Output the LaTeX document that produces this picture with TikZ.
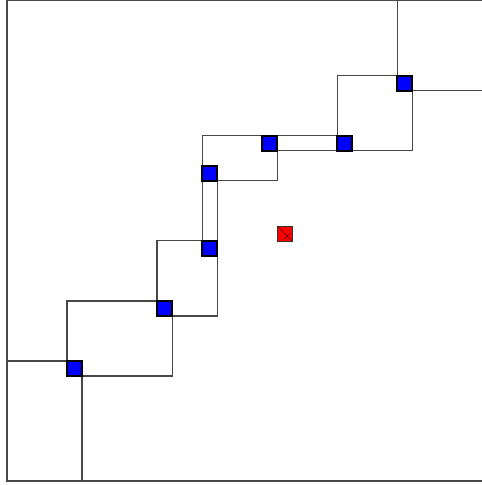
\documentclass[tikz,border=0pt]{standalone}
\begin{document}
\begin{tikzpicture}[x=0.5cm,y=0.5cm,
  cell/.style={draw=black,line width=1pt,fill=blue,minimum size=0.5cm,inner sep=0pt,anchor=south west,outer sep=0pt},
  query/.style={draw=black!80,line width=0.8pt,fill=red,minimum size=0.5cm,inner sep=0pt,anchor=south west,outer sep=0pt},
  region/.style={draw=black!72,line width=0.95pt}]
\useasboundingbox (-7/15,-4/15) rectangle (475/15,481/15);
\clip (-7/15,-4/15) rectangle (475/15,481/15);
\coordinate (o) at (0,0);
\coordinate (e) at (32,32);
\node[cell] (p1) at (4,7) {};
\node[cell] (p2) at (10,11) {};
\node[cell] (p3) at (13,15) {};
\node[cell] (p4) at (13,20) {};
\node[cell] (p5) at (17,22) {};
\node[cell] (p6) at (22,22) {};
\node[cell] (p7) at (26,26) {};
\node[query] (q) at (18,16) {};
% regions
\draw[region] (o) rectangle (e);
\draw[region] (o) rectangle (p1.north east);
\draw[region] (p1.south west) rectangle (p2.north east);
\draw[region] (p2.south west) rectangle (p3.north east);
\draw[region] (p3.south west) rectangle (p4.north east);
\draw[region] (p4.south west) rectangle (p5.north east);
\draw[region] (p5.south west) rectangle (p6.north east);
\draw[region] (p6.south west) rectangle (p7.north east);
\draw[region] (p7.south west) rectangle (e);
% points on top
\foreach \i/\x/\y in {1/4/7,2/10/11,3/13/15,4/13/20,5/17/22,6/22/22,7/26/26}
  \node[cell] at (\x,\y) {};
\node[query] at (18,16) {};
\draw[black!70!red,line width=0.6pt] (q.north west) -- (q.south east);
\draw[black!70!red,line width=0.6pt] ([shift={(0.45,0.1)}]q.south west) -- ([shift={(0.9,0.55)}]q.south west);
\end{tikzpicture}
\end{document}
